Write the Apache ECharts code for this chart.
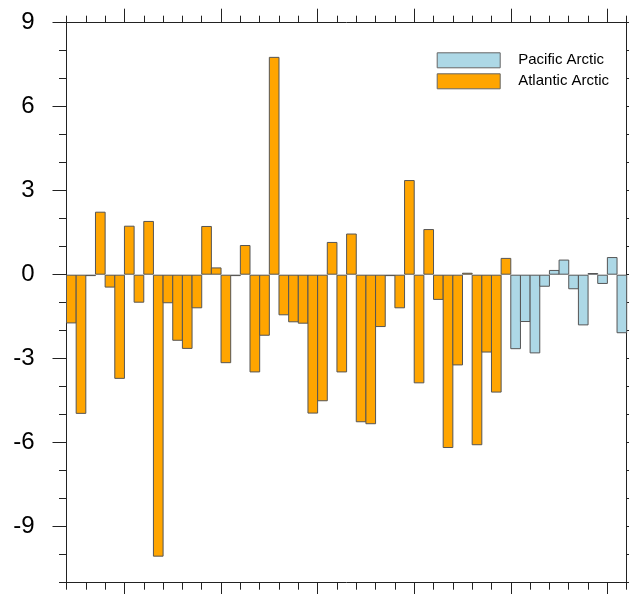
<!DOCTYPE html>
<html>
<head>
<meta charset="utf-8">
<script src="https://cdn.jsdelivr.net/npm/echarts@6/dist/echarts.min.js"></script>
<style>
html,body{margin:0;padding:0;background:#fff;}
#chart{width:629px;height:594px;}
</style>
</head>
<body>
<div id="chart"></div>
<script>
// ---- data ----
const atlanticValues = [
  -1.74, -4.97, -0.05, 2.25, -0.46, -3.72, 1.75, -1.0, 1.92, -10.07,
  -1.02, -2.36, -2.65, -1.2, 1.74, 0.26, -3.16, -0.05, 1.06, -3.49,
  -2.18, 7.78, -1.45, -1.70, -1.75, -4.96, -4.52, 1.17, -3.49, 1.47,
  -5.27, -5.34, -1.87, -0.05, -1.2, 3.38, -3.88, 1.63, -0.9, -6.19,
  -3.24, 0.07, -6.09, -2.78, -4.21, 0.6
];
const pacificValues = [
  -2.66, -1.69, -2.81, -0.43, 0.17, 0.54, -0.52, -1.81, 0.06, -0.33, 0.63, -2.09
];
const yTickLabels = [-9, -6, -3, 0, 3, 6, 9];
const seriesNames = ['Pacific Arctic', 'Atlantic Arctic'];

const nBars = atlanticValues.length + pacificValues.length;
const categories = [];
for (let i = 0; i < nBars; i++) categories.push(String(i + 1));
const atlanticData = atlanticValues.concat(pacificValues.map(() => null));
const pacificData = atlanticValues.map(() => null).concat(pacificValues);

// ---- layout ----
const L = 66.5, T = 22.7, W = 560.2, H = 560;
const bw = W / nBars;
const axisCol = '#222';
const fontFam = 'Liberation Sans, Arial, Helvetica, sans-serif';

const chart = echarts.init(document.getElementById('chart'), null, {renderer: 'canvas'});
const minorX = (pos) => ({
  type: 'category', gridIndex: 0, position: pos, data: categories, boundaryGap: true,
  axisLine: {show: true, onZero: false, lineStyle: {color: axisCol, width: 1}},
  axisTick: {show: true, interval: 1, length: 7, inside: false, lineStyle: {color: axisCol, width: 1}},
  axisLabel: {show: false}, splitLine: {show: false}
});
const majorX = (pos) => ({
  type: 'value', gridIndex: 1, position: pos, min: 0, max: 54, interval: 10,
  axisLine: {show: false, onZero: false},
  axisTick: {show: true, length: 14, inside: false, lineStyle: {color: axisCol, width: 1}},
  axisLabel: {show: false}, splitLine: {show: false}
});
const minorY = (pos) => ({
  type: 'value', gridIndex: 0, position: pos, min: -11, max: 9, interval: 1,
  axisLine: {show: true, onZero: false, lineStyle: {color: axisCol, width: 1}},
  axisTick: {show: true, length: 7.5, inside: false, lineStyle: {color: axisCol, width: 1}},
  axisLabel: {show: false}, splitLine: {show: false}
});
const majorY = (pos, labels) => ({
  type: 'value', gridIndex: 2, position: pos, min: -12, max: 9, interval: 3,
  axisLine: {show: false, onZero: false},
  axisTick: {show: true, length: 14, inside: false, lineStyle: {color: axisCol, width: 1}},
  axisLabel: {
    show: labels, margin: 32, fontSize: 24, color: '#000', fontFamily: fontFam,
    formatter: (v) => (yTickLabels.indexOf(v) >= 0 ? String(v) : '')
  },
  splitLine: {show: false}
});

chart.setOption({
  animation: false,
  backgroundColor: '#fff',
  grid: [
    {left: L, top: T, width: W, height: H, outerBoundsMode: 'none', containLabel: false},
    {left: L + 6 * bw, top: T, width: 54 * bw, height: H, outerBoundsMode: 'none', containLabel: false},
    {left: L, top: T, width: W, height: 21 * 28, outerBoundsMode: 'none', containLabel: false}
  ],
  xAxis: [
    minorX('bottom'), minorX('top'), majorX('bottom'), majorX('top'),
    {type: 'value', gridIndex: 2, show: false, min: 0, max: 1}
  ],
  yAxis: [
    minorY('left'), minorY('right'),
    {type: 'value', gridIndex: 1, show: false, min: 0, max: 1},
    majorY('left', true), majorY('right', false)
  ],
  legend: {
    data: seriesNames,
    orient: 'vertical',
    left: 436.7, top: 52.3, padding: 0,
    itemWidth: 63, itemHeight: 15, itemGap: 5,
    icon: 'rect',
    itemStyle: {borderColor: '#666', borderWidth: 1},
    textStyle: {fontSize: 15, lineHeight: 15, color: '#000', fontFamily: fontFam, padding: [0, 0, 0, 13]}
  },
  series: [
    {
      name: 'Pacific Arctic', type: 'bar', xAxisIndex: 0, yAxisIndex: 0,
      data: pacificData, barWidth: bw + 1, barGap: '-100%',
      itemStyle: {color: '#add8e6', borderColor: '#555', borderWidth: 1}
    },
    {
      name: 'Atlantic Arctic', type: 'bar', xAxisIndex: 0, yAxisIndex: 0,
      data: atlanticData, barWidth: bw + 1, barGap: '-100%',
      itemStyle: {color: '#ffa500', borderColor: '#555', borderWidth: 1}
    }
  ]
});
</script>
</body>
</html>
